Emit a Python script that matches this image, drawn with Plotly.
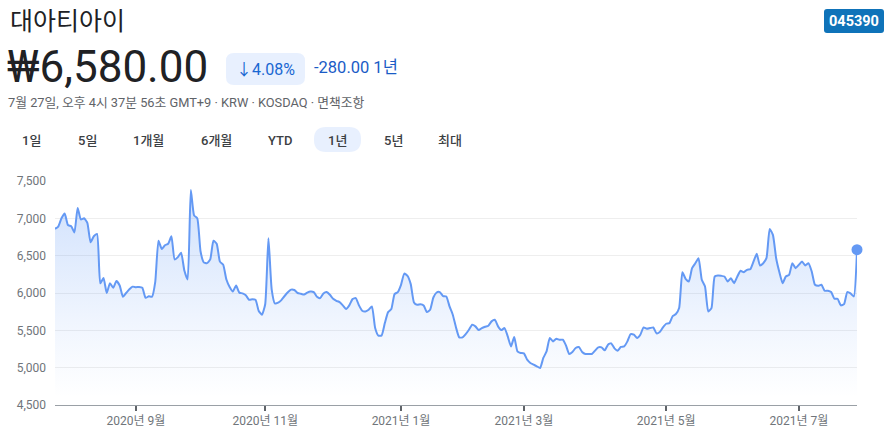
import pandas as pd
import plotly.graph_objects as go

# ---------------- data ----------------
TITLE = "대아티아이"
PRICE_TEXT = "₩6,580.00"
CHANGE_PCT = "↓4.08%"
CHANGE_ABS = "-280.00 1년"
SUBTITLE = "7월 27일, 오후 4시 37분 56초 GMT+9 · KRW · KOSDAQ · 면책조항"
TICKER = "045390"
TABS = ["1일", "5일", "1개월", "6개월", "YTD", "1년", "5년", "최대"]
ACTIVE_TAB = "1년"

HOLIDAYS = ["2020-08-17", "2020-09-30", "2020-10-01", "2020-10-02", "2020-10-09",
            "2020-12-25", "2020-12-31", "2021-01-01", "2021-02-11", "2021-02-12",
            "2021-03-01", "2021-05-05", "2021-05-19"]

TICK_MONTHS = ["2020-09", "2020-11", "2021-01", "2021-03", "2021-05", "2021-07"]
TICK_LABELS = ["2020년 9월", "2020년 11월", "2021년 1월", "2021년 3월", "2021년 5월", "2021년 7월"]

Y_TICKS = [4500, 5000, 5500, 6000, 6500, 7000, 7500]
Y_TICK_LABELS = ["4,500", "5,000", "5,500", "6,000", "6,500", "7,000", "7,500"]

PRICES = [
    6860, 6890, 7000, 7065, 6910, 6895, 6810, 7140, 6985, 7000,
    6940, 6680, 6760, 6790, 6130, 6200, 6000, 6130, 6070, 6160,
    6100, 5950, 6000, 6050, 6085, 6078, 6080, 6070, 5935, 5955,
    5950, 6150, 6700, 6590, 6640, 6660, 6760, 6450, 6480, 6540,
    6300, 6180, 7380, 7040, 7000, 6560, 6410, 6400, 6450, 6700,
    6660, 6420, 6380, 6180, 6080, 6020, 6100, 6005, 5995, 5970,
    5910, 5915, 5910, 5760, 5710, 5850, 6734, 6050, 5860, 5870,
    5905, 5960, 6010, 6045, 6040, 6000, 5990, 5980, 6005, 6020,
    6012, 5949, 5932, 5994, 6012, 5976, 5923, 5896, 5878, 5834,
    5785, 5834, 5918, 5932, 5834, 5762, 5753, 5776, 5820, 5530,
    5428, 5432, 5597, 5744, 5785, 5985, 6012, 6110, 6260, 6230,
    6119, 5874, 5842, 5851, 5834, 5744, 5776, 5940, 6007, 6012,
    5958, 5954, 5820, 5709, 5539, 5406, 5406, 5450, 5508, 5575,
    5553, 5503, 5530, 5548, 5562, 5620, 5642, 5553, 5503, 5530,
    5419, 5285, 5410, 5218, 5196, 5192, 5107, 5063, 5040, 5018,
    4996, 5130, 5218, 5397, 5352, 5388, 5374, 5374, 5299, 5183,
    5210, 5263, 5277, 5210, 5183, 5183, 5183, 5228, 5272, 5272,
    5232, 5308, 5326, 5259, 5228, 5277, 5285, 5352, 5450, 5441,
    5397, 5441, 5539, 5521, 5530, 5539, 5459, 5477, 5539, 5588,
    5597, 5691, 5718, 5798, 6279, 6190, 6154, 6333, 6399, 6466,
    6177, 6087, 5753, 5798, 6221, 6234, 6230, 6221, 6154, 6199,
    6132, 6221, 6297, 6279, 6310, 6319, 6422, 6524, 6368, 6399,
    6466, 6858, 6778, 6466, 6279, 6132, 6221, 6243, 6399, 6333,
    6377, 6422, 6368, 6399, 6288, 6110, 6096, 6110, 6030, 6030,
    6012, 5923, 5923, 5834, 5851, 6012, 5994, 5954, 6580,
]

# trading-day calendar
dates = pd.bdate_range("2020-07-27", "2021-07-27")
dates = dates[~dates.isin(pd.to_datetime(HOLIDAYS))]
dates = list(dates)[-len(PRICES):] if len(dates) >= len(PRICES) else list(dates)
n = len(PRICES)
xs = list(range(n))
months = [d.strftime("%Y-%m") for d in dates]
tick_idx = []
for m in TICK_MONTHS:
    tick_idx.append(months.index(m) if m in months else 0)

# ---------------- layout geometry ----------------
W, H = 893, 444
L, R, T, B = 55, 36, 181, 39
PW, PH = W - L - R, H - T - B


def px(x):
    return (x - L) / PW


def py(y):
    return (H - B - y) / PH


def rounded_rect(x0, y0, x1, y1, r):
    pts = []
    pts.append(f"M {px(x0 + r)},{py(y0)}")
    pts.append(f"L {px(x1 - r)},{py(y0)}")
    pts.append(f"Q {px(x1)},{py(y0)} {px(x1)},{py(y0 + r)}")
    pts.append(f"L {px(x1)},{py(y1 - r)}")
    pts.append(f"Q {px(x1)},{py(y1)} {px(x1 - r)},{py(y1)}")
    pts.append(f"L {px(x0 + r)},{py(y1)}")
    pts.append(f"Q {px(x0)},{py(y1)} {px(x0)},{py(y1 - r)}")
    pts.append(f"L {px(x0)},{py(y0 + r)}")
    pts.append(f"Q {px(x0)},{py(y0)} {px(x0 + r)},{py(y0)}")
    pts.append("Z")
    return " ".join(pts)


FONT = "Roboto, 'Noto Sans CJK KR', Arial, sans-serif"
LINE_COLOR = "#6499f4"

fig = go.Figure()
fig.add_trace(go.Scatter(
    x=xs, y=PRICES, mode="lines",
    line=dict(color=LINE_COLOR, width=2, shape="spline", smoothing=0.5),
    fill="tozeroy",
    fillgradient=dict(type="vertical", start=4600, stop=7500,
                      colorscale=[[0, "rgba(66,133,244,0)"],
                                  [0.35, "rgba(66,133,244,0.08)"],
                                  [1, "rgba(66,133,244,0.26)"]]),
    hoverinfo="skip", showlegend=False,
))
fig.add_trace(go.Scatter(
    x=[xs[-1]], y=[PRICES[-1]], mode="markers",
    marker=dict(color=LINE_COLOR, size=11),
    cliponaxis=False, hoverinfo="skip", showlegend=False,
))

shapes = [
    dict(type="path", xref="paper", yref="paper", path=rounded_rect(226, 53, 305, 85, 8),
         fillcolor="#e8f0fe", line=dict(width=0), layer="below"),
    dict(type="path", xref="paper", yref="paper", path=rounded_rect(314, 127, 361, 152, 12),
         fillcolor="#e8f0fe", line=dict(width=0), layer="below"),
    dict(type="path", xref="paper", yref="paper", path=rounded_rect(824, 9, 884, 33, 3),
         fillcolor="#0f73b9", line=dict(width=0), layer="below"),
]

ann = []


def text(x, y, s, size, color, anchor="left", weight="normal"):
    ann.append(dict(x=px(x), y=py(y), xref="paper", yref="paper", text=s,
                    showarrow=False, xanchor=anchor, yanchor="middle",
                    font=dict(family=FONT, size=size, color=color, weight=weight)))


text(8, 21, TITLE, 25, "#202124")
text(5, 67, PRICE_TEXT, 44, "#202124")
text(265.5, 69, CHANGE_PCT, 16, "#1967d2", anchor="center")
text(312, 68, CHANGE_ABS, 16.5, "#1a5bc6")
text(6, 102, SUBTITLE, 12.8, "#5f6368")
text(854, 21, TICKER, 14.5, "#ffffff", anchor="center", weight="bold")

tab_centers = [31, 87, 148, 216, 280, 337, 393, 450]
for c, t in zip(tab_centers, TABS):
    text(c, 140, t, 13, "#3c4043", anchor="center", weight=500)

fig.update_layout(
    width=W, height=H,
    margin=dict(l=L, r=R, t=T, b=B, pad=0),
    paper_bgcolor="white", plot_bgcolor="white",
    font=dict(family=FONT, color="#70757a", size=12),
    shapes=shapes, annotations=ann,
    xaxis=dict(range=[0, n - 1], tickmode="array", tickvals=tick_idx, ticktext=TICK_LABELS,
               showgrid=False, zeroline=False, showline=True, linecolor="#9aa0a6", linewidth=1,
               ticks="outside", ticklen=5, tickwidth=2, tickcolor="#5f6368",
               tickfont=dict(size=12, color="#70757a")),
    yaxis=dict(range=[4500, 7500], tickmode="array", tickvals=Y_TICKS, ticktext=Y_TICK_LABELS,
               showgrid=True, gridcolor="#eeeeee", gridwidth=1, zeroline=False, showline=False,
               ticks="", ticklabelstandoff=8, tickfont=dict(size=12, color="#70757a")),
)

fig.write_html("out.html")
